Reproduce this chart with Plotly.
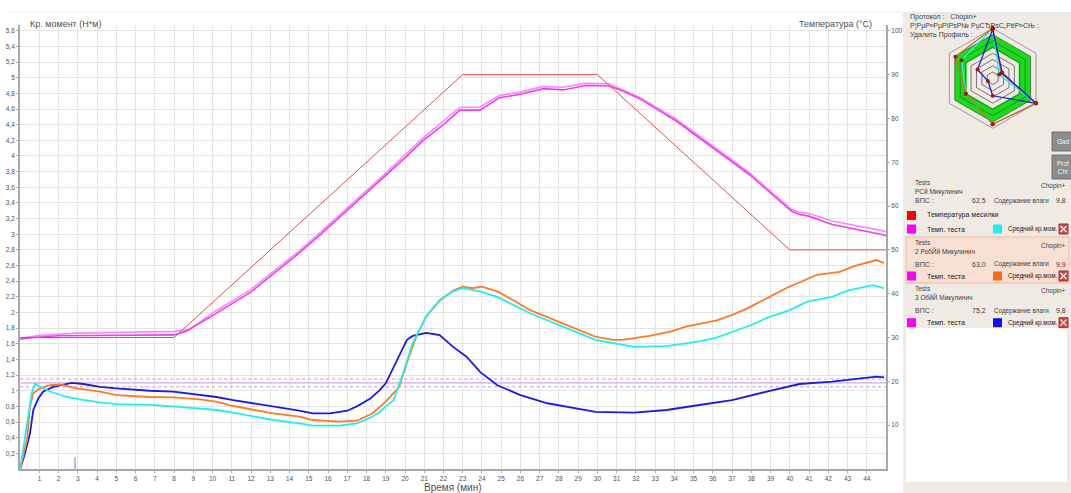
import plotly.graph_objects as go

W, H = 1071, 493

# ---------------- data ----------------
x_ticks = list(range(1, 45))
torque_ticks = [round(0.2 * k, 1) for k in range(1, 29)]
temp_ticks = list(range(10, 101, 10))

mix_t = [0, 8, 23, 30, 40, 45]
mix_temp = [30, 30, 90, 90, 50, 50]

doughA_t = [0, 0.7, 2, 4, 8, 8.6, 10, 12, 14.5, 15.6, 17, 18, 19, 20, 20.9, 22, 22.85, 23.9, 24.9,
            26.0, 27.2, 28.2, 29.4, 30.6, 31.2, 32.2, 34.1, 36.0, 37.9, 40.1, 40.5, 41.0, 42.2, 44.8, 45]
doughA_temp = [29.6, 30.0, 30.4, 30.5, 30.6, 31.4, 35.0, 40.4, 49.3, 53.5, 59.0, 63.0, 67.0, 71.0, 74.8,
               78.6, 81.9, 81.9, 84.7, 85.5, 86.8, 86.5, 87.5, 87.4, 86.5, 84.5, 79.4, 73.3, 67.2, 58.8,
               58.1, 57.7, 55.8, 53.5, 53.2]
doughB_t = [0, 1, 3, 8, 8.8, 10, 12, 14.5, 15.6, 17, 19, 20.9, 22.85, 23.9, 24.9, 26.0, 27.2, 28.2,
            29.4, 30.6, 31.2, 32.2, 34.1, 36.0, 37.9, 40.1, 40.5, 41.0, 42.2, 44.8, 45]
doughB_temp = [29.8, 30.5, 31.0, 31.4, 31.8, 35.6, 41.0, 49.8, 54.0, 59.5, 67.5, 75.4, 82.5, 82.6, 85.2,
               86.0, 87.3, 87.1, 88.0, 87.9, 86.8, 84.8, 79.8, 73.7, 67.6, 59.2, 58.6, 58.3, 56.6, 54.4, 54.2]

s1_t = [0, 0.35, 0.6, 0.77, 1.03, 1.55, 2.42, 3.1, 4.15, 5.0, 6.74, 7.96, 9.34, 10.2, 11.07, 12.1, 13.15,
        14.5, 15.2, 16.6, 17.5, 18.3, 18.7, 19.0, 19.4, 19.9, 20.4, 21.1, 21.8, 22.5, 23.0, 23.9, 24.8,
        25.6, 26.5, 28.2, 29.9, 30.8, 31.9, 33.6, 35.3, 36.2, 37.0, 38.0, 38.8, 40.0, 40.9, 42.2, 43.0,
        44.3, 44.9]
s1_torque = [0, 0.54, 0.97, 1.09, 1.05, 0.99, 0.92, 0.89, 0.85, 0.83, 0.82, 0.80, 0.775, 0.754, 0.72,
             0.67, 0.626, 0.584, 0.555, 0.553, 0.584, 0.668, 0.73, 0.80, 0.88, 1.22, 1.61, 1.95, 2.16,
             2.27, 2.31, 2.27, 2.20, 2.10, 1.99, 1.82, 1.65, 1.61, 1.56, 1.57, 1.63, 1.68, 1.75, 1.84,
             1.93, 2.03, 2.14, 2.20, 2.28, 2.35, 2.31]

s2_t = [0, 0.35, 0.51, 0.68, 1.03, 1.55, 2.07, 2.93, 4.15, 5.0, 6.74, 7.96, 9.34, 10.2, 11.07, 12.1,
        13.15, 14.5, 15.2, 16.6, 17.5, 18.3, 19.0, 19.7, 20.1, 20.6, 21.1, 21.8, 22.5, 23.0, 23.5, 24.0,
        24.8, 25.6, 26.5, 28.2, 29.9, 30.8, 31.3, 32.7, 33.8, 34.6, 36.2, 37.0, 37.6, 38.8, 39.8, 41.4,
        42.6, 43.3, 44.5, 44.9]
s2_torque = [0, 0.37, 0.80, 0.97, 1.03, 1.07, 1.08, 1.03, 0.99, 0.945, 0.92, 0.915, 0.89, 0.86, 0.805,
             0.754, 0.71, 0.67, 0.626, 0.605, 0.617, 0.71, 0.86, 1.05, 1.36, 1.70, 1.95, 2.15, 2.28,
             2.33, 2.31, 2.33, 2.27, 2.16, 2.03, 1.86, 1.69, 1.65, 1.65, 1.70, 1.755, 1.82, 1.90, 1.97,
             2.03, 2.18, 2.31, 2.48, 2.52, 2.59, 2.67, 2.63]

s3_t = [0, 0.25, 0.51, 0.68, 0.94, 1.2, 1.72, 2.42, 2.67, 3.28, 4.15, 5.0, 6.74, 7.96, 9.34, 10.2, 11.07,
        12.1, 13.15, 14.5, 15.2, 16.1, 17.0, 17.5, 18.2, 18.7, 19.0, 19.6, 20.1, 20.4, 21.1, 21.8, 22.5,
        23.2, 23.9, 24.8, 26.0, 27.4, 29.1, 29.9, 31.9, 33.6, 35.3, 37.0, 38.8, 40.5, 42.2, 44.5, 44.9]
s3_torque = [0, 0.2, 0.456, 0.754, 0.90, 0.99, 1.05, 1.08, 1.10, 1.086, 1.05, 1.03, 1.00, 0.99, 0.945,
             0.92, 0.88, 0.84, 0.80, 0.745, 0.71, 0.71, 0.745, 0.80, 0.90, 1.01, 1.095, 1.39, 1.65, 1.70,
             1.74, 1.71, 1.56, 1.435, 1.24, 1.07, 0.945, 0.84, 0.763, 0.73, 0.72, 0.754, 0.818, 0.88,
             0.99, 1.086, 1.116, 1.18, 1.17]

marker_t = [2.85, 2.85]
marker_v = [0, 0.15]

ref_level = 1.1
ref_band = [1.05, 1.15]

# radar (profile) data, six axes
radar_theta = [0, 60, 120, 180, 240, 300, 0]
radar_s1 = [1.0, 0.15, 1.0, 0.92, 0.62, 0.72, 1.0]
radar_s2 = [1.0, 0.2, 1.0, 0.92, 0.62, 0.86, 1.0]
radar_s3 = [0.98, 0.22, 1.0, 0.35, 0.11, 0.35, 0.98]
radar_rings = [0.125, 0.25, 0.375, 0.5, 0.625, 0.75, 0.875, 1.0]
radar_green = [0.6, 0.875]

samples = [
    {"name": "РСй Микулинич", "vps": "62,5", "moist": "9,8", "color": "#22eeee"},
    {"name": "2 РобЙй Микулинич", "vps": "63,0", "moist": "9,9", "color": "#ff6a10"},
    {"name": "3 ОбйЙ Микулинич", "vps": "75,2", "moist": "9,8", "color": "#1010ee"},
]

# ---------------- figure ----------------
def px(x):
    return x / W


def py(y):
    return 1 - y / H


x0, x1 = 20.2, 886.0
ytop, ybot = 24.5, 469.0
tmax = 5.68
temp_max = tmax * 100 / 5.6

fig = go.Figure()

MAG = "#f23cf2"
fig.add_trace(go.Scatter(x=doughB_t, y=doughB_temp, yaxis="y2", mode="lines",
                         line=dict(color="#f58cf5", width=1.6), hoverinfo="skip"))
fig.add_trace(go.Scatter(x=doughA_t, y=doughA_temp, yaxis="y2", mode="lines",
                         line=dict(color=MAG, width=1.6), hoverinfo="skip"))
fig.add_trace(go.Scatter(x=mix_t, y=mix_temp, yaxis="y2", mode="lines",
                         line=dict(color="#f04848", width=1), hoverinfo="skip"))

# reference band
fig.add_trace(go.Scatter(x=[0, 45], y=[ref_level, ref_level], mode="lines",
                         line=dict(color="#c890d8", width=1), hoverinfo="skip"))
for b in ref_band:
    fig.add_trace(go.Scatter(x=[0, 45], y=[b, b], mode="lines",
                             line=dict(color="#c890d8", width=1, dash="3px,3px"), hoverinfo="skip"))

fig.add_trace(go.Scatter(x=s3_t, y=s3_torque, mode="lines",
                         line=dict(color="#1a1ae6", width=1.8), hoverinfo="skip"))
fig.add_trace(go.Scatter(x=s2_t, y=s2_torque, mode="lines",
                         line=dict(color="#ff7a22", width=1.8), hoverinfo="skip"))
fig.add_trace(go.Scatter(x=s1_t, y=s1_torque, mode="lines",
                         line=dict(color="#22eeee", width=1.8), hoverinfo="skip"))
fig.add_trace(go.Scatter(x=marker_t, y=marker_v, mode="lines",
                         line=dict(color="#7070ff", width=1), hoverinfo="skip"))

# radar traces
fig.add_trace(go.Scatterpolar(r=[radar_green[1]] * 7, theta=radar_theta, mode="lines", fill="toself",
                              fillcolor="#11e011", line=dict(color="#11e011", width=0), subplot="polar",
                              hoverinfo="skip"))
fig.add_trace(go.Scatterpolar(r=[radar_green[0]] * 7, theta=radar_theta, mode="lines", fill="toself",
                              fillcolor="#efebe4", line=dict(color="#efebe4", width=0), subplot="polar",
                              hoverinfo="skip"))
for rr in radar_rings:
    fig.add_trace(go.Scatterpolar(r=[rr] * 7, theta=radar_theta, mode="lines",
                                  line=dict(color="#555555" if rr < 1 else "#888888", width=0.8),
                                  subplot="polar", hoverinfo="skip"))
for vals, col in [(radar_s1, "#22eeee"), (radar_s2, "#d06a20"), (radar_s3, "#1a1ae6")]:
    fig.add_trace(go.Scatterpolar(r=vals, theta=radar_theta, mode="lines+markers",
                                  line=dict(color=col, width=1.3),
                                  marker=dict(color="#a01818", size=4), subplot="polar",
                                  hoverinfo="skip"))

cx, cy, rad = 992.7, 78.3, 52.5
fig.update_layout(
    polar=dict(
        domain=dict(x=[px(cx - rad), px(cx + rad)], y=[py(cy + rad), py(cy - rad)]),
        bgcolor="rgba(0,0,0,0)",
        radialaxis=dict(visible=False, range=[0, 1.05]),
        angularaxis=dict(visible=False, rotation=90, direction="clockwise"),
        gridshape="linear",
    )
)

FONT = "Liberation Sans"
fig.update_layout(
    width=W, height=H,
    margin=dict(l=0, r=0, t=0, b=0),
    paper_bgcolor="white", plot_bgcolor="white",
    showlegend=False,
    font=dict(family=FONT, size=8, color="#404040"),
    xaxis=dict(domain=[px(x0), px(x1)], range=[0, 45], tickvals=x_ticks,
               ticktext=[str(v) for v in x_ticks], tickfont=dict(size=6.5, color="#505050"),
               showgrid=True, gridcolor="#e4e4e4", gridwidth=1, zeroline=False,
               showline=True, linecolor="#a8a8a8", linewidth=2, ticks="outside", ticklen=2,
               tickcolor="#a8a8a8", automargin=False),
    yaxis=dict(domain=[py(ybot), py(ytop)], range=[0, tmax], tickvals=torque_ticks,
               ticktext=[("%g" % v).replace(".", ",") for v in torque_ticks],
               tickfont=dict(size=6.5, color="#505050"),
               showgrid=True, gridcolor="#e4e4e4", gridwidth=1, zeroline=False,
               showline=True, linecolor="#a8a8a8", linewidth=2, ticks="outside", ticklen=2,
               tickcolor="#a8a8a8", automargin=False),
    yaxis2=dict(overlaying="y", side="right", anchor="x", range=[0, temp_max], tickvals=temp_ticks,
                ticktext=[str(v) for v in temp_ticks], tickfont=dict(size=6.5, color="#505050"),
                showgrid=False, zeroline=False, showline=True, linecolor="#a8a8a8", linewidth=2,
                ticks="outside", ticklen=2, tickcolor="#a8a8a8", automargin=False),
)

shapes = []
ann = []


def text(x, y, s, size=8, anchor="left", color="#404040"):
    ann.append(dict(x=px(x), y=py(y), xref="paper", yref="paper", text=s, showarrow=False,
                    xanchor=anchor, yanchor="middle", font=dict(size=size, color=color, family=FONT)))


def rect(xa, ya, xb, yb, fill, line=None, lw=1, layer="below"):
    shapes.append(dict(type="rect", xref="paper", yref="paper", x0=px(xa), x1=px(xb), y0=py(yb),
                       y1=py(ya), fillcolor=fill, line=dict(color=line or fill, width=lw if line else 0),
                       layer=layer))


# top border line
shapes.append(dict(type="line", xref="paper", yref="paper", x0=px(8), x1=px(902), y0=py(12), y1=py(12),
                   line=dict(color="#ececec", width=1)))
# axis titles
text(28, 24, "Кр. момент (Н*м)", size=9, color="#505050")
text(874, 24, "Температура (°C)", size=9, anchor="right", color="#505050")
text(453, 487, "Время (мин)", size=10, anchor="center", color="#505050")

# right panel
rect(903, 12, 1071, 493, "#efebe4")
rect(906, 237, 1069, 283, "#f8dfd4", line="#f0b8a4")
rect(906, 328, 1067, 482, "#ffffff")

text(908, 17, "Протокол :   Chopin+", size=7)
text(908, 26, "Р¦РµР»РµРІРѕР№ РџСЂРѕС„РёР»СЊ :", size=7)
text(908, 35, "Удалить Профиль :", size=7)

# buttons
for (ya, yb, label) in [(132, 151, "Gad"), (155, 179, "Prof<br>Chr")]:
    shapes.append(dict(type="rect", xref="paper", yref="paper", x0=px(1052), x1=px(1075), y0=py(yb),
                       y1=py(ya), fillcolor="#8c8c8c", line=dict(color="#707070", width=1), layer="above"))
    text(1055, (ya + yb) / 2, label, size=6.5, color="#f4f4f4")

rows = [(182.7, 191.7, 200.7, 229), (242.7, 251.7, 264.3, 276), (288.3, 297.7, 310.7, 322.7)]
for i, (s, (yt, yn, yv, yl)) in enumerate(zip(samples, rows)):
    text(913, yt, "Tests", size=6.5)
    text(1068, yt + 3, "Chopin+", size=6.5, anchor="right")
    text(913, yn, s["name"], size=6.5)
    text(913, yv, "ВПС :", size=7)
    text(988, yv, s["vps"], size=7, anchor="right")
    text(992, yv, "Содержание влаги", size=6.3)
    text(1068, yv, s["moist"], size=7, anchor="right")
    if i == 0:
        rect(907, 211, 916, 220, "#ff0000", layer="above")
        text(925, 215, "Температура месилки", size=7, color="#202020")
    rect(907, yl - 4.5, 916, yl + 4.5, "#ff00ff", layer="above")
    text(925, yl, "Темп. теста", size=7, color="#202020")
    rect(993, yl - 4.5, 1002, yl + 4.5, s["color"], layer="above")
    text(1006, yl, "Средний кр.мом.", size=6.3, color="#202020")
    rect(1059, yl - 5, 1068, yl + 5, "#d04848", line="#a03030", layer="above")
    shapes.append(dict(type="line", xref="paper", yref="paper", x0=px(1060.5), x1=px(1066.5),
                       y0=py(yl - 3), y1=py(yl + 3), line=dict(color="white", width=1.2)))
    shapes.append(dict(type="line", xref="paper", yref="paper", x0=px(1060.5), x1=px(1066.5),
                       y0=py(yl + 3), y1=py(yl - 3), line=dict(color="white", width=1.2)))

fig.update_layout(shapes=shapes, annotations=ann)
fig.write_html("out.html", config={"displayModeBar": False},
               post_script="document.body.style.margin='0px';")
